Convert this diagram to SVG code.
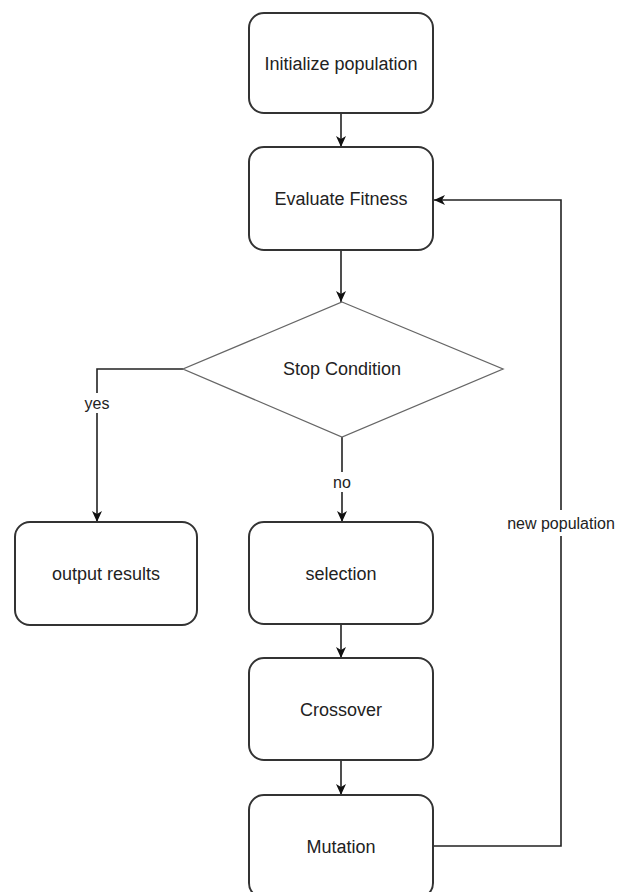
<svg xmlns="http://www.w3.org/2000/svg" width="617" height="892" viewBox="0 0 617 892">
<style>
.box{fill:#fff;stroke:#333;stroke-width:2}
.dia{fill:#fff;stroke:#666;stroke-width:1.3}
.t{font-family:"Liberation Sans",Arial,sans-serif;font-size:18px;fill:#222;text-anchor:middle;dominant-baseline:central}
.lbl{font-family:"Liberation Sans",Arial,sans-serif;font-size:16px;fill:#222;text-anchor:middle;dominant-baseline:central}
.c{fill:none;stroke:#222;stroke-width:1.6}
</style>
<defs>
<marker id="ah" markerUnits="userSpaceOnUse" markerWidth="12" markerHeight="12" refX="11" refY="5" orient="auto">
<path d="M0,0 L11,5 L0,10 L3,5 Z" fill="#111"/>
</marker>
</defs>
<rect width="617" height="892" fill="#fff"/>
<g id="connectors">
<path class="c" d="M341,113 L341,147" marker-end="url(#ah)"/>
<path class="c" d="M341,250 L341,302" marker-end="url(#ah)"/>
<path class="c" d="M183,369 L97,369 L97,522" marker-end="url(#ah)"/>
<path class="c" d="M342,437 L342,522" marker-end="url(#ah)"/>
<path class="c" d="M341,624 L341,658" marker-end="url(#ah)"/>
<path class="c" d="M341,760 L341,795" marker-end="url(#ah)"/>
<path class="c" d="M433,846 L561,846 L561,200 L434,200" marker-end="url(#ah)"/>
<rect x="82" y="393" width="30" height="20" fill="#fff"/>
<text class="lbl" x="97" y="403">yes</text>
<rect x="330" y="472" width="24" height="20" fill="#fff"/>
<text class="lbl" x="342" y="482">no</text>
<rect x="504" y="510" width="113" height="26" fill="#fff"/>
<text class="lbl" x="561" y="523">new population</text>
</g>
<g id="init"><rect class="box" x="249" y="13" width="184" height="100" rx="15"/><text class="t" x="341" y="64">Initialize population</text></g>
<g id="evaluate"><rect class="box" x="249" y="147" width="184" height="103" rx="15"/><text class="t" x="341" y="199">Evaluate Fitness</text></g>
<g id="stop"><polygon class="dia" points="342,302 503,369 342,437 183,369"/><text class="t" x="342" y="369">Stop Condition</text></g>
<g id="output"><rect class="box" x="15" y="522" width="182" height="103" rx="15"/><text class="t" x="106" y="574">output results</text></g>
<g id="selection"><rect class="box" x="249" y="522" width="184" height="102" rx="15"/><text class="t" x="341" y="574">selection</text></g>
<g id="crossover"><rect class="box" x="249" y="658" width="184" height="102" rx="15"/><text class="t" x="341" y="710">Crossover</text></g>
<g id="mutation"><rect class="box" x="249" y="795" width="184" height="103" rx="15"/><text class="t" x="341" y="847">Mutation</text></g>
</svg>
